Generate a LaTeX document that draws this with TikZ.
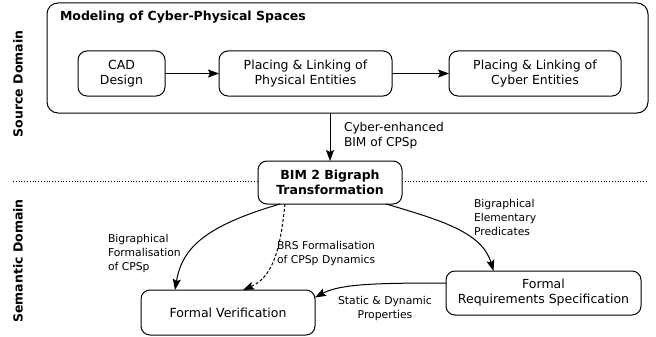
\documentclass[tikz,border=0pt]{standalone}
\usepackage{fontspec}
\setmainfont{DejaVu Sans}
\usetikzlibrary{arrows.meta,calc}
\begin{document}
\begin{tikzpicture}[x=1pt,y=-1pt,
  every node/.style={inner sep=0pt,outer sep=0pt},
  box/.style={draw,line width=1pt,rounded corners=9pt,align=center,
    font=\fontsize{12.5}{15}\selectfont},
  lbl/.style={align=left,font=\fontsize{10.8}{14}\selectfont},
  conn/.style={line width=1pt,-{Stealth[length=11pt,width=8pt,inset=2pt]}},
  side/.style={rotate=90,font=\fontsize{12.5}{15}\selectfont\bfseries}]
\useasboundingbox (0,0) rectangle (656,337);

% source domain
\node[box,minimum width=601pt,minimum height=110pt,rounded corners=11pt] (model) at (347.5,58) {};
\node[anchor=west,font=\fontsize{12.5}{15}\selectfont\bfseries] (title) at (60,17) {Modeling of Cyber-Physical Spaces};
\node[box,minimum width=87pt,minimum height=45pt] (cad) at (121.5,73.5) {CAD\\Design};
\node[box,minimum width=173pt,minimum height=45pt] (phys) at (305.5,73.5) {Placing \& Linking of\\Physical Entities};
\node[box,minimum width=172pt,minimum height=45pt] (cyber) at (535,73.5) {Placing \& Linking of\\Cyber Entities};
\draw[conn] (cad) -- (phys);
\draw[conn] (phys) -- (cyber);

% transformation
\node[box,minimum width=144pt,minimum height=43pt,font=\fontsize{12.5}{15}\selectfont\bfseries] (bim) at (330,182.5) {BIM 2 Bigraph\\Transformation};
\draw[conn] (model.south -| bim.north) -- (bim.north);
\node[lbl,anchor=west,font=\fontsize{12.2}{15}\selectfont] (cyberlbl) at (344,135.5) {Cyber-enhanced\\BIM of CPSp};

% domain separator
\coordinate (sepl) at (13,181);
\coordinate (sepr) at (648,181);
\draw[line width=0.8pt,dotted] (sepl) -- (sepl -| bim.west);
\draw[line width=0.8pt,dotted] (bim.east |- sepr) -- (sepr);
\node[side] (src) at (18,84) {Source Domain};
\node[side] (sem) at (18,261) {Semantic Domain};

% semantic domain
\node[box,minimum width=174pt,minimum height=45pt] (fv) at (228,312.5) {Formal Verification};
\node[box,minimum width=195pt,minimum height=44pt] (frs) at (543.5,293) {Formal\\Requirements Specification};

\draw[conn] ($(bim.south)+(-50,0)$) .. controls (205,226) and (182,248) .. ($(fv.north)+(-53,0)$);
\draw[conn,dash pattern=on 3pt off 2pt] ($(bim.south)+(-45,0)$) .. controls (281,240) and (276,276) .. ($(fv.north)+(15,0)$);
\draw[conn] ($(bim.south)+(56,0)$) .. controls (440,220) and (482,232) .. ($(frs.north)+(-50,0)$);
\draw[conn] (frs.west |- 0,283) .. controls (375,283) and (340,284) .. ($(fv.east)+(0,-15)$);

\node[lbl,anchor=west] (l1) at (108,254) {Bigraphical\\Formalisation\\of CPSp};
\node[lbl,anchor=west] (l2) at (277,253.5) {BRS Formalisation\\of CPSp Dynamics};
\node[lbl,anchor=west] (l3) at (474,217) {Bigraphical\\Elementary\\Predicates};
\node[lbl,align=center] (l4) at (385,309) {Static \& Dynamic\\Properties};
\end{tikzpicture}
\end{document}
